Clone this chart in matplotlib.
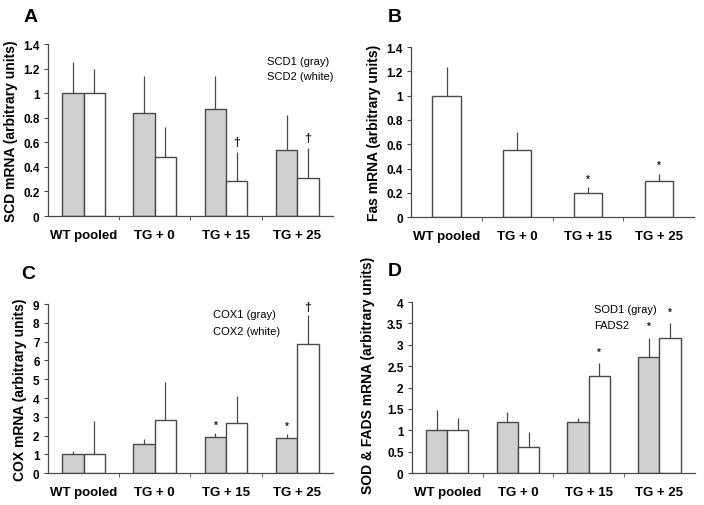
import matplotlib
matplotlib.use("Agg")
import matplotlib.pyplot as plt
import numpy as np

plt.rcParams['font.family'] = ['Liberation Sans', 'DejaVu Sans']

categories = ["WT pooled", "TG + 0", "TG + 15", "TG + 25"]

# Panel A
scd1 = [1.0, 0.837, 0.87, 0.535]
scd1_err = [0.25, 0.30, 0.27, 0.29]
scd2 = [1.0, 0.484, 0.285, 0.313]
scd2_err = [0.20, 0.24, 0.24, 0.24]
scd2_marks = ["", "", "†", "†"]

# Panel B
fas = [1.0, 0.552, 0.20, 0.298]
fas_err = [0.235, 0.15, 0.046, 0.057]
fas_marks = ["", "", "*", "*"]

# Panel C
cox1 = [1.0, 1.53, 1.9, 1.87]
cox1_err = [0.17, 0.27, 0.23, 0.23]
cox1_marks = ["", "", "*", "*"]
cox2 = [1.0, 2.85, 2.69, 6.87]
cox2_err = [1.75, 2.0, 1.42, 1.55]
cox2_marks = ["", "", "", "†"]

# Panel D
sod1 = [1.0, 1.2, 1.19, 2.72]
sod1_err = [0.47, 0.22, 0.11, 0.45]
sod1_marks = ["", "", "", "*"]
fads2 = [1.0, 0.62, 2.27, 3.15]
fads2_err = [0.30, 0.35, 0.31, 0.35]
fads2_marks = ["", "", "*", "*"]

GRAY = "#d0d0d0"
EDGE = "#4a4a4a"

fig = plt.figure(figsize=(7.04, 5.06), dpi=100)

def style_axis(ax, ymax, ystep, ticklabels, ylabel):
    ax.set_xlim(-0.5, 3.5)
    ax.set_ylim(0, ymax)
    yt = np.arange(0, ymax + ystep / 2, ystep)
    ax.set_yticks(yt)
    ax.set_yticklabels(ticklabels, fontsize=8.5, fontweight='bold')
    ax.set_xticks(range(len(categories)))
    ax.set_xticklabels(categories, fontsize=9.5, fontweight='bold')
    ax.tick_params(axis='x', length=0, pad=9)
    ax.set_xticks([0.5, 1.5, 2.5], minor=True)
    ax.tick_params(axis='x', which='minor', length=3, direction='out', color=EDGE)
    ax.tick_params(axis='y', length=3, direction='out', color=EDGE, pad=3)
    for s in ['top', 'right']:
        ax.spines[s].set_visible(False)
    for s in ['left', 'bottom']:
        ax.spines[s].set_color(EDGE)
        ax.spines[s].set_linewidth(0.9)
    ax.set_ylabel(ylabel, fontsize=10, fontweight='bold')

def bars(ax, xpos, vals, errs, color, width, marks=None, mark_off=0.0):
    ax.bar(xpos, vals, width=width, color=color, edgecolor=EDGE, linewidth=1.0, zorder=2)
    ax.errorbar(xpos, vals, yerr=[np.zeros(len(vals)), errs], fmt='none',
                ecolor=EDGE, elinewidth=0.9, capsize=0, zorder=1)
    if marks:
        for x, v, e, m in zip(xpos, vals, errs, marks):
            if m:
                fs = 9 if m == "†" else 7
                ax.text(x, v + e + mark_off, m, ha='center', va='bottom',
                        fontsize=fs, fontweight='bold', color='#222222')

x = np.arange(len(categories))
w = 0.3

# A
axA = fig.add_axes([0.068, 0.571, 0.405, 0.340])
bars(axA, x - w / 2, scd1, scd1_err, GRAY, w)
bars(axA, x + w / 2, scd2, scd2_err, "white", w, scd2_marks, 0.03)
style_axis(axA, 1.4, 0.2, ["0", "0.2", "0.4", "0.6", "0.8", "1", "1.2", "1.4"],
           "SCD mRNA (arbitrary units)")
axA.text(2.57, 1.26, "SCD1 (gray)", fontsize=8, va='center', ha='left')
axA.text(2.57, 1.14, "SCD2 (white)", fontsize=8, va='center', ha='left')

# B
axB = fig.add_axes([0.584, 0.569, 0.402, 0.336])
bars(axB, x, fas, fas_err, "white", 0.4, fas_marks, 0.03)
style_axis(axB, 1.4, 0.2, ["0", "0.2", "0.4", "0.6", "0.8", "1", "1.2", "1.4"],
           "Fas mRNA (arbitrary units)")

# C
axC = fig.add_axes([0.068, 0.063, 0.405, 0.334])
bars(axC, x - w / 2, cox1, cox1_err, GRAY, w, cox1_marks, 0.15)
bars(axC, x + w / 2, cox2, cox2_err, "white", w, cox2_marks, 0.1)
style_axis(axC, 9, 1, [str(i) for i in range(10)], "COX mRNA (arbitrary units)")
axC.text(1.82, 8.47, "COX1 (gray)", fontsize=8, va='center', ha='left')
axC.text(1.82, 7.56, "COX2 (white)", fontsize=8, va='center', ha='left')

# D
axD = fig.add_axes([0.585, 0.063, 0.402, 0.338])
bars(axD, x - w / 2, sod1, sod1_err, GRAY, w, sod1_marks, 0.15)
bars(axD, x + w / 2, fads2, fads2_err, "white", w, fads2_marks, 0.15)
style_axis(axD, 4, 0.5, ["0", "0.5", "1", "1.5", "2", "2.5", "3", "3.5", "4"],
           "SOD & FADS mRNA (arbitrary units)")
axD.yaxis.set_label_coords(-0.13, 0.58)
axD.text(2.07, 3.84, "SOD1 (gray)", fontsize=8, va='center', ha='left')
axD.text(2.07, 3.46, "FADS2", fontsize=8, va='center', ha='left')

# Panel letters
for lbl, px, py in [("A", 31, 17), ("B", 395, 17), ("C", 28, 275), ("D", 395, 271)]:
    fig.text(px / 704, 1 - py / 506, lbl, fontsize=14, fontweight='bold',
             ha='center', va='center')

fig.savefig("out.png", dpi=100)
